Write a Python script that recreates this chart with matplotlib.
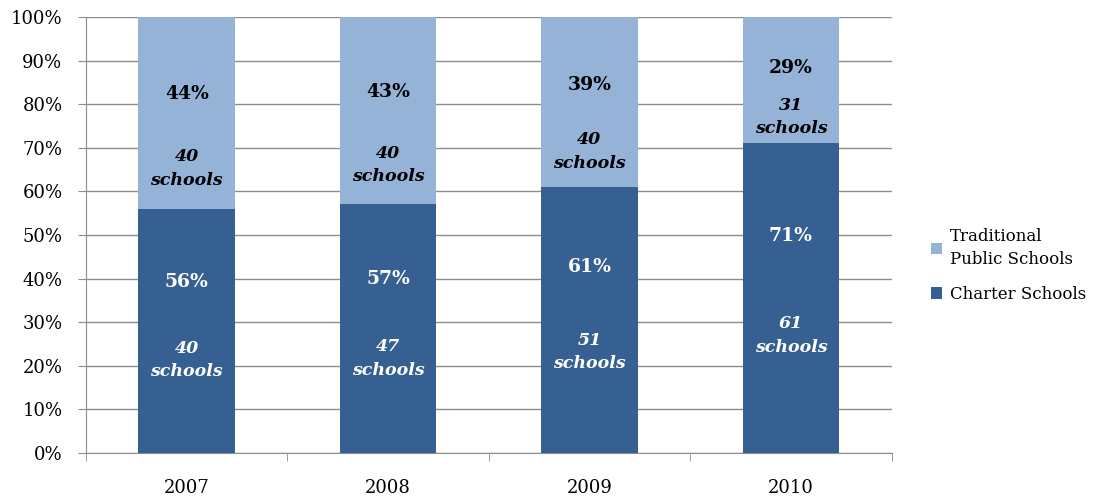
import numpy as np
import matplotlib
matplotlib.use('Agg')
import matplotlib.pyplot as plt
from matplotlib.ticker import PercentFormatter, FixedLocator

years = ['2007', '2008', '2009', '2010']
charter_pct = [56, 57, 61, 71]
traditional_pct = [44, 43, 39, 29]
charter_schools = [40, 47, 51, 61]
traditional_schools = [40, 40, 40, 31]

dark = '#376092'
light = '#95b3d7'
grid_c = '#8c8c8c'

plt.rcParams['font.family'] = 'DejaVu Serif'

fig = plt.figure(figsize=(10.94, 4.96), dpi=100)
ax = fig.add_axes([0.0786, 0.0867, 0.7364, 0.879])

x = np.arange(len(years))
w = 0.48
ax.bar(x, charter_pct, w, color=dark, label='Charter Schools', zorder=3)
ax.bar(x, traditional_pct, w, bottom=charter_pct, color=light,
       label='Traditional\nPublic Schools', zorder=3)

for i in range(len(years)):
    c, t = charter_pct[i], traditional_pct[i]
    ax.text(x[i], c * 0.70, f'{c}%', ha='center', va='center', color='white',
            fontsize=13.5, fontweight='bold', zorder=4)
    ax.text(x[i], c * 0.38, f'{charter_schools[i]}\nschools', ha='center', va='center',
            color='white', fontsize=12.5, fontweight='bold', fontstyle='italic',
            linespacing=1.5, zorder=4)
    ax.text(x[i], c + t * 0.60, f'{t}%', ha='center', va='center', color='black',
            fontsize=13.5, fontweight='bold', zorder=4)
    ax.text(x[i], c + t * 0.21, f'{traditional_schools[i]}\nschools', ha='center', va='center',
            color='black', fontsize=12.5, fontweight='bold', fontstyle='italic',
            linespacing=1.5, zorder=4)

ax.set_xlim(-0.5, len(years) - 0.5)
ax.set_ylim(0, 100)
ax.set_yticks(np.arange(0, 101, 10))
ax.yaxis.set_major_formatter(PercentFormatter(decimals=0))
ax.yaxis.grid(True, color=grid_c, linewidth=1, zorder=0)
ax.set_xticks(x)
ax.set_xticklabels(years)
ax.xaxis.set_minor_locator(FixedLocator(np.arange(-0.5, len(years), 1)))
ax.tick_params(axis='x', which='major', length=0, pad=19, labelsize=13)
ax.tick_params(axis='x', which='minor', length=6, color=grid_c, direction='out')
ax.tick_params(axis='y', length=6, color=grid_c, labelsize=13, pad=11)

for s in ['top', 'right']:
    ax.spines[s].set_visible(False)
for s in ['left', 'bottom']:
    ax.spines[s].set_color(grid_c)

handles, labels = ax.get_legend_handles_labels()
ax.legend(handles[::-1], labels[::-1], loc='center left', bbox_to_anchor=(1.03, 0.43),
          frameon=False, handlelength=0.7, handleheight=0.7,
          handletextpad=0.45, labelspacing=1.1, prop={'size': 12})
for txt in ax.get_legend().get_texts():
    txt.set_linespacing(1.45)

plt.savefig('out.png', dpi=100)
